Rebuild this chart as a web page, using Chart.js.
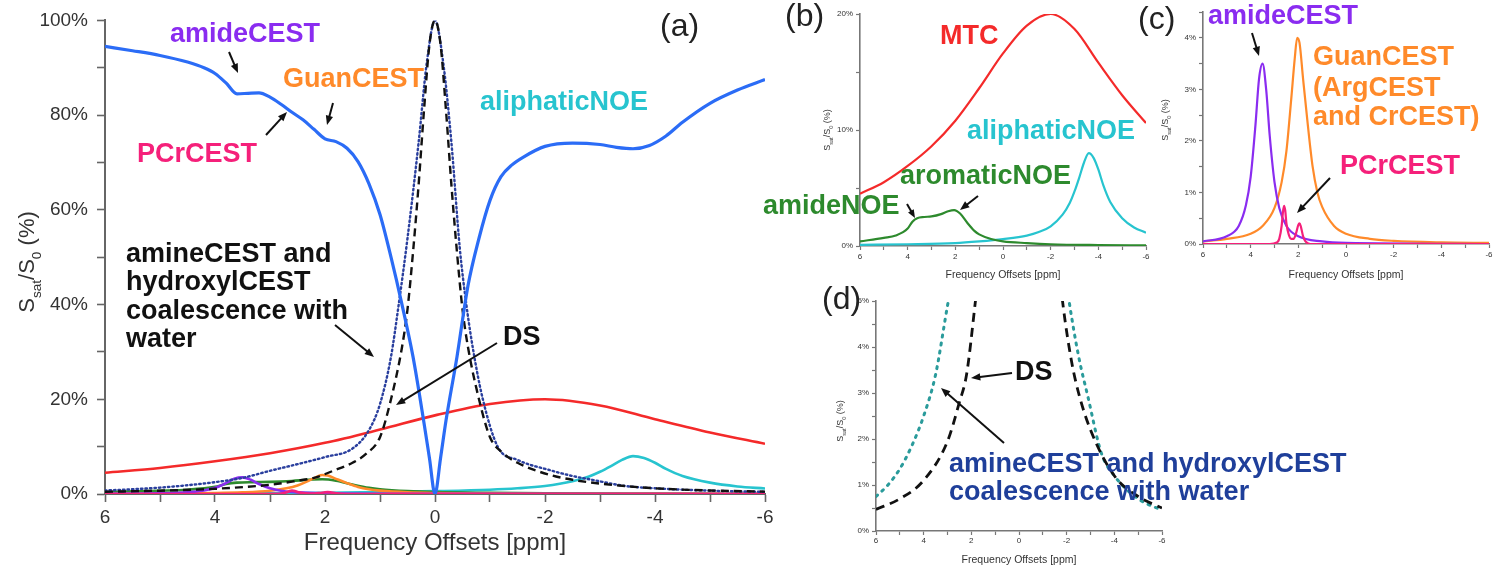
<!DOCTYPE html>
<html>
<head>
<meta charset="utf-8">
<script src="https://cdn.jsdelivr.net/npm/chart.js@4.4.0/dist/chart.umd.min.js"></script>
<style>
  html, body { margin: 0; padding: 0; background: #fff; }
  #wrap { position: relative; width: 1500px; height: 572px; overflow: hidden; background: #fff; }
  canvas { position: absolute; }
</style>
</head>
<body>
<div id="wrap">
  <canvas id="panelA" width="800" height="572" style="left:0px;top:0px"></canvas>
  <canvas id="panelB" width="420" height="295" style="left:760px;top:0px"></canvas>
  <canvas id="panelC" width="370" height="295" style="left:1130px;top:0px"></canvas>
  <canvas id="panelD" width="600" height="292" style="left:800px;top:280px"></canvas>
</div>
<script>
// values: ppm offsets and % of S0
const zPpm = [6, 5.5, 5, 4.5, 4.2, 4, 3.8, 3.6, 3.4, 3.2, 3, 2.8, 2.6, 2.4, 2.2, 2, 1.8, 1.6, 1.4, 1.2, 1, 0.8, 0.6, 0.4, 0.2, 0.1, 0,
  -0.1, -0.2, -0.4, -0.6, -0.8, -1, -1.2, -1.4, -1.6, -2, -2.5, -3, -3.3, -3.6, -3.9, -4.2, -4.5, -5, -5.5, -6];
const zVal = [94.5, 93.6, 92.6, 91.2, 90.0, 88.8, 86.8, 84.5, 84.6, 84.7, 83.8, 82.3, 80.6, 79.0, 77.0, 75.0, 74.4, 73.0, 70.2, 65.5, 59, 50, 40, 29, 15, 7.5, 0,
  7.5, 15.5, 29, 44, 54, 62, 67, 69.5, 71.1, 73.4, 74.1, 73.8, 73.2, 72.9, 73.6, 75.6, 78.5, 82.5, 85.3, 87.5];

const mtPpm = [6, 5, 4, 3, 2, 1, 0, -1, -2, -3, -4, -5, -6];
const mtVal = [4.5, 5.5, 6.9, 8.6, 10.8, 13.6, 16.6, 19.0, 20.0, 18.7, 15.8, 13.0, 10.6];

const alPpm = [6, 4, 2, 1, 0, -1, -1.5, -2, -2.5, -2.8, -3, -3.2, -3.4, -3.6, -3.8, -4, -4.2, -4.5, -5, -5.5, -6];
const alVal = [0.1, 0.15, 0.25, 0.4, 0.6, 0.9, 1.2, 1.7, 2.7, 3.7, 4.7, 5.9, 7.2, 8.0, 7.6, 6.6, 5.3, 3.8, 2.4, 1.6, 1.15];

const noePpm = [6, 5, 4.5, 4, 3.8, 3.6, 3.3, 3.0, 2.6, 2.3, 2.05, 1.8, 1.5, 1.2, 1.0, 0.5, 0, -1, -2, -4, -6];
const noeVal = [0.4, 0.7, 0.9, 1.5, 2.1, 2.4, 2.5, 2.55, 2.75, 3.0, 3.1, 2.8, 2.0, 1.3, 1.0, 0.6, 0.4, 0.25, 0.15, 0.08, 0.05];

const amPpm = [6, 5, 4.5, 4.2, 4.0, 3.8, 3.65, 3.5, 3.35, 3.2, 3.0, 2.8, 2.5, 2, 1, 0, -6];
const amVal = [0.05, 0.15, 0.35, 0.75, 1.3, 2.3, 3.2, 3.5, 3.0, 2.1, 1.2, 0.7, 0.35, 0.15, 0.05, 0.02, 0];

const guPpm = [6, 5, 4, 3.5, 3, 2.7, 2.5, 2.3, 2.15, 2.05, 1.95, 1.8, 1.6, 1.4, 1.2, 1, 0.5, 0, -1, -2, -4, -6];
const guVal = [0.05, 0.1, 0.2, 0.35, 0.7, 1.2, 1.8, 2.8, 3.6, 4.0, 3.9, 3.2, 2.3, 1.5, 1.0, 0.72, 0.35, 0.2, 0.1, 0.06, 0.03, 0.02];

const pcPpm = [6, 3.2, 2.9, 2.8, 2.7, 2.65, 2.6, 2.55, 2.5, 2.4, 2.3, 2.2, 2.1, 2.0, 1.95, 1.9, 1.8, 1.7, 1.5, -6];
const pcVal = [0, 0, 0.03, 0.1, 0.35, 0.6, 0.74, 0.65, 0.4, 0.18, 0.1, 0.1, 0.2, 0.37, 0.4, 0.35, 0.15, 0.05, 0, 0];

const dotPpm = [6, 5.5, 5, 4.5, 4, 3.5, 3, 2.5, 2, 1.5, 1.2, 1, 0.8, 0.66, 0.5, 0.3, 0.15, 0,
  -0.15, -0.3, -0.45, -0.57, -0.7, -0.87, -1.14, -1.5, -2.1, -2.5, -2.9, -3.45, -4, -5, -6];
const dotVal = [0.75, 1.0, 1.35, 1.85, 2.5, 3.4, 4.9, 6.3, 7.8, 9.6, 13.5, 19, 29, 40, 54, 74, 91, 100,
  91, 74, 52, 40, 30, 20, 10, 7.2, 5, 3.8, 2.9, 1.7, 1.2, 0.7, 0.45];

const dsPpm = [6, 5, 4, 3, 2.5, 2.2, 1.85, 1.5, 1.25, 1, 0.8, 0.6, 0.5, 0.4, 0.3, 0.2, 0.1, 0,
  -0.1, -0.2, -0.3, -0.4, -0.5, -0.6, -0.8, -1, -1.25, -1.5, -1.85, -2.2, -2.5, -3, -4, -5, -6];
const dsVal = [0.47, 0.7, 1.1, 1.95, 2.8, 3.4, 4.9, 6.6, 8.5, 12, 20, 31, 39, 51, 65, 81, 95, 100,
  95, 81, 65, 51, 39, 31, 20, 12, 8.5, 6.6, 4.9, 3.7, 3.0, 2.2, 1.2, 0.75, 0.5];

const FONT = '"Liberation Sans", Arial, Helvetica, sans-serif';
const B27 = 'bold 27px ' + FONT;
const R32 = '32px ' + FONT;
const C = {
  blue: '#2b6cf6', navy: '#2a3f9e', red: '#f42a2a', teal: '#27c4cf', green: '#2d8a2d',
  purple: '#8a2cf0', orange: '#ff8a2a', pink: '#f5207a', dteal: '#2a9b9b', dblue: '#1f3f9a'
};

// annotation layout, page pixels
const NOTES = {
  panelA: {
    ox: 0, oy: 0, ytitle: [26, 262, 22],
    texts: [
      ['amideCEST', 170, 35, C.purple, B27],
      ['GuanCEST', 283, 80, C.orange, B27],
      ['PCrCEST', 137, 155, C.pink, B27],
      ['aliphaticNOE', 480, 103, C.teal, B27],
      ['(a)', 660, 27, '#222', R32],
      ['amineCEST and', 126, 255, '#111', B27],
      ['hydroxylCEST', 126, 283, '#111', B27],
      ['coalescence with', 126, 312, '#111', B27],
      ['water', 126, 340, '#111', B27],
      ['DS', 503, 338, '#111', B27]
    ],
    arrows: [[229, 52, 238, 73], [333, 103, 327, 125], [266, 135, 287, 112], [335, 325, 374, 357], [497, 343, 396, 405]]
  },
  panelB: {
    ox: 760, oy: 0, ytitle: [827, 130, 9],
    texts: [
      ['(b)', 785, 17, '#222', R32],
      ['MTC', 940, 37, C.red, B27],
      ['aliphaticNOE', 967, 132, C.teal, B27],
      ['aromaticNOE', 900, 177, C.green, B27],
      ['amideNOE', 763, 207, C.green, B27]
    ],
    arrows: [[907, 204, 915, 218], [978, 196, 960, 210]]
  },
  panelC: {
    ox: 1130, oy: 0, ytitle: [1165, 120, 9],
    texts: [
      ['(c)', 1138, 20, '#222', R32],
      ['amideCEST', 1208, 17, C.purple, B27],
      ['GuanCEST', 1313, 58, C.orange, B27],
      ['(ArgCEST', 1313, 89, C.orange, B27],
      ['and CrCEST)', 1313, 118, C.orange, B27],
      ['PCrCEST', 1340, 167, C.pink, B27]
    ],
    arrows: [[1252, 33, 1259, 56], [1330, 178, 1297, 213]]
  },
  panelD: {
    ox: 800, oy: 280, ytitle: [840, 421, 9],
    texts: [
      ['(d)', 822, 300, '#222', R32],
      ['DS', 1015, 373, '#111', B27],
      ['amineCEST and hydroxylCEST', 949, 465, C.dblue, B27],
      ['coalescence with water', 949, 493, C.dblue, B27]
    ],
    arrows: [[1012, 373, 971, 378], [1004, 443, 941, 388]]
  }
};

function drawArrow(ctx, x1, y1, x2, y2) {
  const ang = Math.atan2(y2 - y1, x2 - x1);
  const len = Math.hypot(x2 - x1, y2 - y1);
  const h = Math.min(10, len * 0.55);
  ctx.beginPath();
  ctx.moveTo(x1, y1);
  ctx.lineTo(x2 - Math.cos(ang) * h * 0.7, y2 - Math.sin(ang) * h * 0.7);
  ctx.stroke();
  ctx.beginPath();
  ctx.moveTo(x2, y2);
  ctx.lineTo(x2 - h * Math.cos(ang - 0.38), y2 - h * Math.sin(ang - 0.38));
  ctx.lineTo(x2 - h * Math.cos(ang + 0.38), y2 - h * Math.sin(ang + 0.38));
  ctx.closePath();
  ctx.fill();
}

function drawSsat(ctx, cx, cy, size) {
  const parts = [['S', 1, 0], ['sat', 0.62, 1], ['/S', 1, 0], ['0', 0.62, 1], [' (%)', 1, 0]];
  ctx.save();
  ctx.translate(cx, cy);
  ctx.rotate(-Math.PI / 2);
  ctx.fillStyle = '#333';
  ctx.textAlign = 'left';
  ctx.textBaseline = 'alphabetic';
  let total = 0;
  parts.forEach(p => { ctx.font = (size * p[1]) + 'px ' + FONT; total += ctx.measureText(p[0]).width; });
  let x = -total / 2;
  parts.forEach(p => {
    ctx.font = (size * p[1]) + 'px ' + FONT;
    ctx.fillText(p[0], x, size * 0.36 + p[2] * size * 0.3);
    x += ctx.measureText(p[0]).width;
  });
  ctx.restore();
}

const notesPlugin = {
  id: 'notes',
  afterDraw(chart) {
    const n = NOTES[chart.canvas.id];
    if (!n) return;
    const ctx = chart.ctx;
    ctx.save();
    ctx.translate(-n.ox, -n.oy);
    drawSsat(ctx, n.ytitle[0], n.ytitle[1], n.ytitle[2]);
    ctx.textAlign = 'left';
    ctx.textBaseline = 'middle';
    n.texts.forEach(t => {
      ctx.font = t[4];
      ctx.fillStyle = t[3];
      ctx.fillText(t[0], t[1], t[2]);
    });
    ctx.strokeStyle = '#111';
    ctx.fillStyle = '#111';
    ctx.lineWidth = 2;
    n.arrows.forEach(a => drawArrow(ctx, a[0], a[1], a[2], a[3]));
    ctx.restore();
  }
};
Chart.register(notesPlugin);

function line(xs, ys, color, width, dash) {
  return {
    data: xs.map((x, i) => ({ x: x, y: ys[i] })),
    borderColor: color,
    borderWidth: width,
    borderDash: dash || [],
    borderCapStyle: dash && dash[0] < 3 ? 'round' : 'butt',
    pointRadius: 0,
    fill: false,
    cubicInterpolationMode: 'monotone'
  };
}

const isWhole = (v, m) => Math.abs(v / m - Math.round(v / m)) < 1e-6;

function makePanel(id, datasets, s) {
  const axisColor = s.axisColor;
  return new Chart(document.getElementById(id), {
    type: 'line',
    data: { datasets: datasets },
    options: {
      responsive: false,
      animation: false,
      events: [],
      layout: { padding: s.pad },
      plugins: { legend: { display: false }, tooltip: { enabled: false } },
      scales: {
        x: {
          type: 'linear', min: -6, max: 6, reverse: true,
          afterFit: sc => { sc.height = s.xh; },
          border: { color: axisColor, width: s.aw },
          grid: { drawOnChartArea: false, tickLength: s.tl, tickColor: axisColor, tickWidth: s.tw },
          ticks: {
            stepSize: 1, autoSkip: false, maxRotation: 0, padding: s.xtp, color: '#333',
            font: { family: FONT, size: s.tick },
            callback: v => isWhole(v, 2) ? String(Math.round(v)) : ''
          },
          title: {
            display: true, text: 'Frequency Offsets [ppm]', color: '#333',
            font: { family: FONT, size: s.title }, padding: { top: 0, bottom: s.titlePad }
          }
        },
        y: {
          min: 0, max: s.ymax,
          afterFit: sc => { sc.width = s.yw; },
          border: { color: axisColor, width: s.aw },
          grid: { drawOnChartArea: false, tickLength: s.tl, tickColor: axisColor, tickWidth: s.tw },
          ticks: {
            stepSize: s.ystep, autoSkip: false, padding: s.ytp, color: '#333',
            font: { family: FONT, size: s.tick },
            callback: v => isWhole(v, s.ylab) ? Math.round(v) + '%' : ''
          }
        }
      }
    }
  });
}

makePanel('panelA', [
  line(zPpm, zVal, C.blue, 3.2),
  line(dsPpm, dsVal, '#111', 2.4, [8, 5]),
  line(dotPpm, dotVal, C.navy, 2.4, [1.5, 3]),
  line(pcPpm, pcVal, C.pink, 2.6),
  line(amPpm, amVal, C.purple, 2.6),
  line(guPpm, guVal, C.orange, 2.6),
  line(noePpm, noeVal, C.green, 2.6),
  line(alPpm, alVal, C.teal, 2.6),
  line(mtPpm, mtVal, C.red, 2.6)
], { pad: { left: 0, top: 20, right: 35, bottom: 0 }, yw: 105, xh: 78, ymax: 100, ystep: 10, ylab: 20,
  axisColor: '#666', aw: 2, tl: 8, tw: 1.6, tick: 19, title: 24, titlePad: 14, xtp: 4, ytp: 9 });

makePanel('panelB', [
  line(noePpm, noeVal, C.green, 2.2),
  line(alPpm, alVal, C.teal, 2.2),
  line(mtPpm, mtVal, C.red, 2.2)
], { pad: { left: 0, top: 14, right: 34, bottom: 0 }, yw: 100, xh: 49, ymax: 20, ystep: 5, ylab: 10,
  axisColor: '#777', aw: 1.6, tl: 4, tw: 1.2, tick: 8, title: 10.5, titlePad: 13.5, xtp: 2, ytp: 3 });

makePanel('panelC', [
  line(pcPpm, pcVal, C.pink, 2.2),
  line(amPpm, amVal, C.purple, 2.2),
  line(guPpm, guVal, C.orange, 2.2)
], { pad: { left: 0, top: 12, right: 11, bottom: 0 }, yw: 73, xh: 51, ymax: 4.5, ystep: 0.5, ylab: 1,
  axisColor: '#777', aw: 1.6, tl: 4, tw: 1.2, tick: 8, title: 10.5, titlePad: 13.5, xtp: 2, ytp: 3 });

makePanel('panelD', [
  line(dsPpm, dsVal, '#111', 2.8, [9, 6]),
  line(dotPpm, dotVal, C.dteal, 3, [2, 6])
], { pad: { left: 0, top: 21, right: 238, bottom: 0 }, yw: 76, xh: 41, ymax: 5, ystep: 0.5, ylab: 1,
  axisColor: '#777', aw: 1.6, tl: 4, tw: 1.2, tick: 8, title: 10.5, titlePad: 5.5, xtp: 1, ytp: 3 });
</script>
</body>
</html>
